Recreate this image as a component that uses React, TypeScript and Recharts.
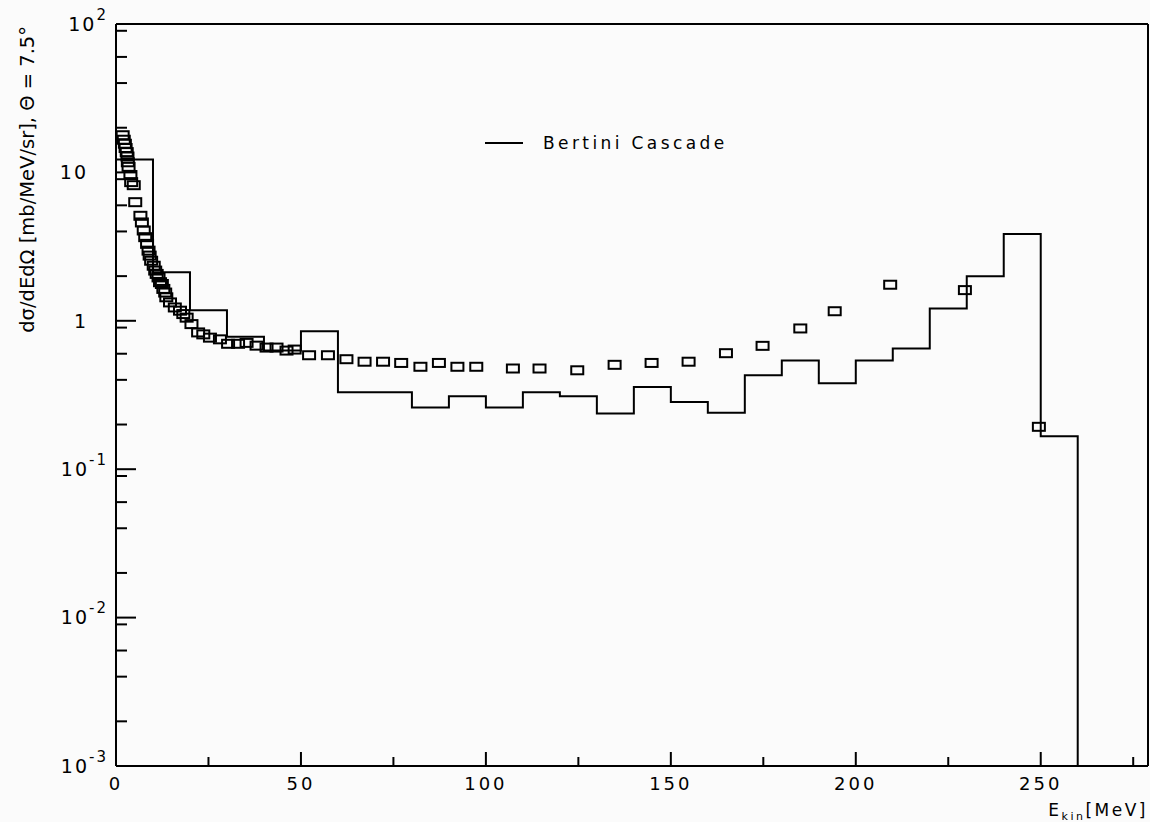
import React from "react";
import { ComposedChart, Line, Scatter, XAxis, YAxis, Legend } from "recharts";

// Bertini cascade histogram: left bin edges (MeV) and bin contents, last entry closes the spectrum
const binEdges = [
  0, 10, 20, 30, 40, 50, 60, 70, 80, 90, 100, 110, 120, 130, 140, 150, 160, 170,
  180, 190, 200, 210, 220, 230, 240, 250, 260,
];
const binValues = [
  12.2, 2.12, 1.18, 0.78, 0.63, 0.85, 0.33, 0.33, 0.26, 0.31, 0.26, 0.33, 0.31,
  0.237, 0.358, 0.284, 0.24, 0.43, 0.54, 0.38, 0.54, 0.65, 1.21, 2.0, 3.85,
  0.167, 0.001,
];

// measured points (open squares)
const dataEnergy = [
  1.8, 2.1, 2.4, 2.6, 2.9, 3.1, 3.2, 3.4, 3.9, 4.1, 4.8, 5.2, 6.6, 7.0, 7.5,
  7.9, 8.4, 8.8, 9.1, 9.5, 10.2, 10.6, 11.0, 11.5, 11.9, 12.4, 12.8, 13.3, 13.6,
  14.6, 15.9, 17.3, 18.2, 19.1, 20.4, 22.2, 23.6, 25.4, 28.1, 30.3, 33.0, 35.3,
  38.0, 40.7, 43.4, 46.1, 48.3, 52.2, 57.3, 62.3, 67.2, 72.2, 77.1, 82.3, 87.3,
  92.3, 97.4, 107.3, 114.5, 124.7, 134.8, 144.8, 154.8, 164.9, 174.8, 185.0,
  194.3, 209.3, 229.5, 249.5,
];
const dataSigma = [
  17.8, 16.6, 15.6, 14.6, 13.7, 12.8, 11.7, 10.9, 9.6, 8.6, 8.2, 6.3, 5.1, 4.6,
  4.06, 3.66, 3.3, 2.97, 2.75, 2.54, 2.35, 2.18, 2.07, 1.96, 1.82, 1.77, 1.64,
  1.55, 1.44, 1.33, 1.23, 1.17, 1.11, 1.05, 0.95, 0.835, 0.81, 0.77, 0.75, 0.7,
  0.7, 0.71, 0.68, 0.66, 0.66, 0.63, 0.64, 0.586, 0.586, 0.551, 0.53, 0.53,
  0.52, 0.49, 0.52, 0.49, 0.49, 0.477, 0.477, 0.464, 0.505, 0.52, 0.53, 0.605,
  0.678, 0.888, 1.16, 1.75, 1.61, 0.193,
];

const xMajorTicks = [0, 50, 100, 150, 200, 250];
const xMinorTicks = [25, 75, 125, 175, 225, 275];
const yMajorTicks = [0.001, 0.01, 0.1, 1, 10, 100];
const yTickBase = ["10", "10", "10", "1", "10", "10"];
const yTickExp = ["-3", "-2", "-1", "", "", "2"];
const decades = [0.001, 0.01, 0.1, 1, 10];
const yMinorTicks = decades.flatMap((d) => [2, 3, 4, 5, 6, 7, 8, 9].map((m) => d * m));

const histogram = binEdges.map((e, i) => ({ e, v: binValues[i] }));
const points = dataEnergy.map((e, i) => ({ e, v: dataSigma[i] }));

const FONT = "'DejaVu Sans', Verdana, sans-serif";

const NoLabel = () => <g />;

const YTick = (props: any) => {
  const { x, y, payload } = props;
  const i = yMajorTicks.indexOf(payload.value);
  if (i < 0) return <g />;
  const exp = yTickExp[i];
  return (
    <text
      x={exp ? x : x - 20}
      y={y}
      dy="0.36em"
      textAnchor="end"
      fontFamily={FONT}
      fontSize={19}
      letterSpacing={2}
      fill="#000"
    >
      {yTickBase[i]}
      {exp && (
        <tspan dy={-11} fontSize={15}>
          {exp}
        </tspan>
      )}
    </text>
  );
};

const YTitle = (props: any) => {
  const { viewBox } = props;
  const x = viewBox.x + 34;
  const y = viewBox.y + 2;
  return (
    <text
      x={x}
      y={y}
      transform={`rotate(-90, ${x}, ${y})`}
      textAnchor="end"
      fontFamily={FONT}
      fontSize={19.5}
      fill="#000"
    >
      dσ/dEdΩ [mb/MeV/sr], Θ = 7.5°
    </text>
  );
};

const XTitle = (props: any) => {
  const { viewBox } = props;
  return (
    <text
      x={viewBox.x + viewBox.width}
      y={viewBox.y + viewBox.height - 6}
      textAnchor="end"
      fontFamily={FONT}
      fontSize={17}
      letterSpacing={2.5}
      fill="#000"
    >
      E
      <tspan dy={4} fontSize={11}>
        kin
      </tspan>
      <tspan dy={-4}>[MeV]</tspan>
    </text>
  );
};

const OpenSquare = (props: any) => {
  const { cx, cy } = props;
  if (cx == null || cy == null) return <g />;
  return (
    <rect x={cx - 6} y={cy - 4} width={12} height={8} fill="none" stroke="#000" strokeWidth={2} />
  );
};

const LegendBox = (props: any) => {
  const item = (props.payload || []).find((p: any) => p.type !== "none" && p.value === "Bertini Cascade");
  return (
    <div style={{ display: "flex", alignItems: "center", height: 20 }}>
      <span style={{ display: "inline-block", width: 38, height: 0, borderTop: "2px solid #000" }} />
      <span
        style={{
          marginLeft: 20,
          fontFamily: FONT,
          fontSize: 17,
          letterSpacing: 3.4,
          color: "#000",
          whiteSpace: "nowrap",
        }}
      >
        {item ? item.value : "Bertini Cascade"}
      </span>
    </div>
  );
};

const tickStroke = { stroke: "#000", strokeWidth: 2 };

export default function App() {
  return (
    <div style={{ position: "absolute", left: 0, top: 0, width: 1150, height: 822, background: "#fbfbfb" }}>
      <ComposedChart width={1150} height={822} margin={{ top: 23, right: 1, left: 0, bottom: 0 }}>
        <XAxis
          dataKey="e"
          type="number"
          domain={[0, 279]}
          allowDataOverflow
          ticks={xMajorTicks}
          tickLine={false}
          tickSize={8}
          tickMargin={3}
          height={56}
          axisLine={tickStroke}
          tick={{ fill: "#000", fontSize: 18, fontFamily: FONT, letterSpacing: 3 }}
          label={<XTitle />}
        />
        <XAxis
          xAxisId="xMajor"
          dataKey="e"
          type="number"
          domain={[0, 279]}
          allowDataOverflow
          ticks={xMajorTicks}
          mirror
          height={1}
          tickSize={14}
          axisLine={false}
          tickLine={tickStroke}
          tick={NoLabel}
        />
        <XAxis
          xAxisId="xMinor"
          dataKey="e"
          type="number"
          domain={[0, 279]}
          allowDataOverflow
          ticks={xMinorTicks}
          mirror
          height={1}
          tickSize={8}
          axisLine={false}
          tickLine={tickStroke}
          tick={NoLabel}
        />
        <XAxis
          xAxisId="frameTop"
          orientation="top"
          dataKey="e"
          type="number"
          domain={[0, 279]}
          allowDataOverflow
          height={1}
          tick={false}
          tickLine={false}
          axisLine={tickStroke}
        />
        <YAxis
          scale="log"
          type="number"
          domain={[0.001, 100]}
          allowDataOverflow
          ticks={yMajorTicks}
          width={116}
          tickLine={false}
          tickSize={8}
          tickMargin={0}
          axisLine={tickStroke}
          tick={YTick}
          label={<YTitle />}
        />
        <YAxis
          yAxisId="yMajor"
          scale="log"
          type="number"
          domain={[0.001, 100]}
          allowDataOverflow
          ticks={yMajorTicks}
          mirror
          width={1}
          tickSize={20}
          axisLine={false}
          tickLine={tickStroke}
          tick={NoLabel}
        />
        <YAxis
          yAxisId="yMinor"
          scale="log"
          type="number"
          domain={[0.001, 100]}
          allowDataOverflow
          ticks={yMinorTicks}
          mirror
          width={1}
          tickSize={10}
          axisLine={false}
          tickLine={tickStroke}
          tick={NoLabel}
        />
        <YAxis
          yAxisId="frameRight"
          orientation="right"
          scale="log"
          type="number"
          domain={[0.001, 100]}
          allowDataOverflow
          width={1}
          tick={false}
          tickLine={false}
          axisLine={tickStroke}
        />
        <Legend
          layout="horizontal"
          verticalAlign="middle"
          align="center"
          wrapperStyle={{ left: 485, top: 133, width: 320 }}
          content={<LegendBox />}
        />
        <Line
          data={histogram}
          dataKey="v"
          name="Bertini Cascade"
          type="stepAfter"
          stroke="#000"
          strokeWidth={2}
          dot={false}
          isAnimationActive={false}
        />
        <Scatter
          data={points}
          dataKey="v"
          name="Data"
          legendType="none"
          shape={OpenSquare}
          isAnimationActive={false}
        />
      </ComposedChart>
    </div>
  );
}
